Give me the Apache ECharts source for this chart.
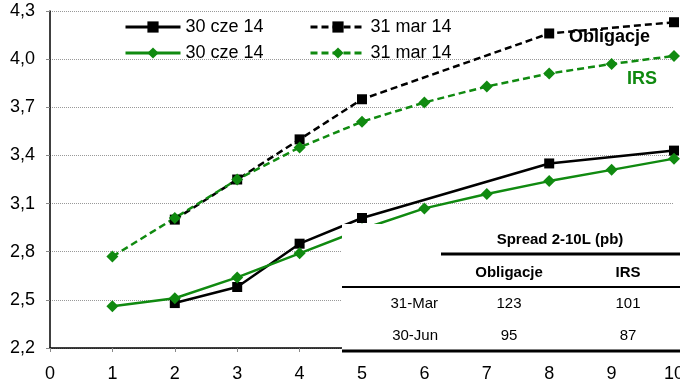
<!DOCTYPE html>
<html><head><meta charset="utf-8">
<script src="https://cdn.jsdelivr.net/npm/echarts@6/dist/echarts.min.js"></script>
<style>html,body{margin:0;padding:0;background:#fff}#c{width:680px;height:379px}</style>
</head><body><div id="c"></div>
<script>
// Data
const bondTenors = [2, 3, 4, 5, 8, 10];
const bondJun = [2.48, 2.58, 2.85, 3.01, 3.35, 3.43];
const bondMar = [3.00, 3.25, 3.50, 3.75, 4.16, 4.23];
const irsTenors = [1, 2, 3, 4, 5, 6, 7, 8, 9, 10];
const irsJun = [2.46, 2.51, 2.64, 2.79, 2.94, 3.07, 3.16, 3.24, 3.31, 3.38];
const irsMar = [2.77, 3.01, 3.25, 3.45, 3.61, 3.73, 3.83, 3.91, 3.97, 4.02];
const yTicks = [2.2, 2.5, 2.8, 3.1, 3.4, 3.7, 4.0, 4.3];
const legendNames = ['30 cze 14', '31 mar 14', '30 cze 14', '31 mar 14'];
const tableTitle = 'Spread 2-10L (pb)';
const tableCols = ['Obligacje', 'IRS'];
const tableRows = ['31-Mar', '30-Jun'];
const tableObl = [123, 95];
const tableIrs = [101, 87];

const GREEN = '#108a10';
const pair = (xs, ys) => xs.map((x, i) => [x, ys[i]]);
const font = '"Liberation Sans",Arial,sans-serif';

const chart = echarts.init(document.getElementById('c'));
const mk = (key, label, color, type, sym, data, size) => ({
  name: key + '|' + label, type: 'line', data, symbol: sym, symbolSize: size,
  lineStyle: {color, width: 2.5, type: type === 'dashed' ? [7, 4] : 'solid'},
  itemStyle: {color}, animation: false, z: 3
});
const series = [
  mk('a', legendNames[0], '#000', 'solid', 'rect', pair(bondTenors, bondJun), 10),
  mk('b', legendNames[1], '#000', 'dashed', 'rect', pair(bondTenors, bondMar), 10),
  mk('c', legendNames[2], GREEN, 'solid', 'diamond', pair(irsTenors, irsJun), 12),
  mk('d', legendNames[3], GREEN, 'dashed', 'diamond', pair(irsTenors, irsMar), 12)
];
const legPos = [[124, 18], [309, 18], [124, 44], [309, 44]];
const legends = series.map((s, i) => ({
  data: [s.name], left: legPos[i][0], top: legPos[i][1], itemWidth: 55, itemHeight: 14, itemGap: 0,
  padding: 0, formatter: n => n.split('|')[1], selectedMode: false,
  lineStyle: {width: 3},
  textStyle: {fontFamily: font, fontSize: 18, color: '#000'}
}));

const gx = 342, gy = 224, gw = 338;
const colObl = 509, colIrs = 628, rowY = [304, 336];
const graphic = [
  {type: 'rect', shape: {x: gx, y: gy, width: gw, height: 127}, style: {fill: '#fff'}, z: 10},
  {type: 'text', x: 560, y: 240, style: {text: tableTitle, font: 'bold 15px ' + font, fill: '#000', align: 'center', verticalAlign: 'middle'}, z: 11},
  {type: 'line', shape: {x1: 441, y1: 254, x2: 680, y2: 254}, style: {stroke: '#000', lineWidth: 3}, z: 11},
  {type: 'text', x: colObl, y: 273, style: {text: tableCols[0], font: 'bold 15px ' + font, fill: '#000', align: 'center', verticalAlign: 'middle'}, z: 11},
  {type: 'text', x: colIrs, y: 273, style: {text: tableCols[1], font: 'bold 15px ' + font, fill: '#000', align: 'center', verticalAlign: 'middle'}, z: 11},
  {type: 'line', shape: {x1: gx, y1: 287, x2: 680, y2: 287}, style: {stroke: '#000', lineWidth: 2}, z: 11},
  {type: 'line', shape: {x1: gx, y1: 351, x2: 680, y2: 351}, style: {stroke: '#000', lineWidth: 3}, z: 11},
  {type: 'text', x: 569, y: 37, style: {text: 'Obligacje', font: 'bold 18px ' + font, fill: '#000', verticalAlign: 'middle'}, z: 11},
  {type: 'text', x: 627, y: 79, style: {text: 'IRS', font: 'bold 18px ' + font, fill: GREEN, verticalAlign: 'middle'}, z: 11}
];
tableRows.forEach((r, i) => {
  graphic.push({type: 'text', x: 438, y: rowY[i], style: {text: r, font: '15px ' + font, fill: '#000', align: 'right', verticalAlign: 'middle'}, z: 11});
  graphic.push({type: 'text', x: colObl, y: rowY[i], style: {text: String(tableObl[i]), font: '15px ' + font, fill: '#000', align: 'center', verticalAlign: 'middle'}, z: 11});
  graphic.push({type: 'text', x: colIrs, y: rowY[i], style: {text: String(tableIrs[i]), font: '15px ' + font, fill: '#000', align: 'center', verticalAlign: 'middle'}, z: 11});
});

chart.setOption({
  animation: false,
  grid: {left: 50, right: 6, top: 11, bottom: 31, containLabel: false, outerBoundsMode: 'none'},
  legend: legends,
  xAxis: {type: 'value', min: 0, max: 10, interval: 1,
    axisLine: {lineStyle: {color: '#000', width: 1.5}},
    axisTick: {show: true, length: 4, lineStyle: {color: '#888'}},
    axisLabel: {fontFamily: font, fontSize: 18, color: '#000', margin: 17},
    splitLine: {show: false}},
  yAxis: {type: 'value', min: 2.2, max: 4.3,
    axisLine: {show: true, lineStyle: {color: '#000', width: 1.5}},
    axisTick: {show: true, length: 4, customValues: yTicks, lineStyle: {color: '#888'}},
    axisLabel: {customValues: yTicks, fontFamily: font, fontSize: 18, color: '#000', margin: 15,
      formatter: v => v.toFixed(1).replace('.', ',')},
    splitLine: {show: true, lineStyle: {color: '#999', type: [1, 1], width: 1}}},
  series,
  graphic
});
</script></body></html>
